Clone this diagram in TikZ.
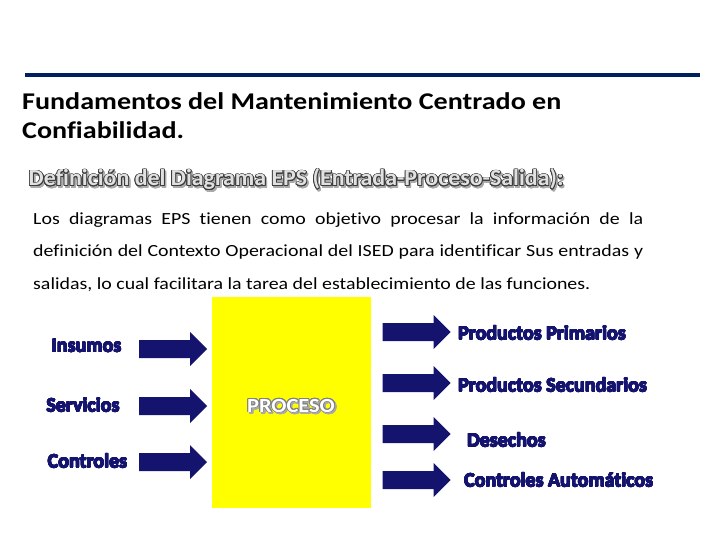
\documentclass[tikz,border=0pt]{standalone}
\usepackage{fontspec}
\setmainfont{Carlito}[Ligatures=CommonOff]
\newfontfamily\stretchA{Carlito}[FakeStretch=1.17, Ligatures=CommonOff]
\newfontfamily\stretchB{Carlito}[FakeStretch=1.04, Ligatures=CommonOff]
\newfontfamily\stretchC{Carlito}[FakeStretch=1.12, Ligatures=CommonOff]
\usepackage{contour}
\contourlength{0.8pt}
\definecolor{navy}{RGB}{20,20,110}
\definecolor{rulecol}{RGB}{0,32,96}
\definecolor{procyellow}{RGB}{255,255,0}
\definecolor{outdark}{RGB}{60,60,60}
\definecolor{fillgray}{RGB}{225,225,225}
\definecolor{shadowgray}{RGB}{170,170,170}
\newcommand\navyout[1]{{\contourlength{0.4pt}\contour{navy}{#1}}}
\tikzset{
  blockarrow/.pic={\fill[navy] (-34,-9) -- (17,-9) -- (17,-17) -- (34,0) -- (17,17) -- (17,9) -- (-34,9) -- cycle;},
  lab/.style={font=\fontsize{20}{24}\selectfont\bfseries, text=navy, inner sep=0pt},
  rlab/.style={lab, anchor=west},
  titlestyle/.style={anchor=base west, inner sep=0pt, font=\stretchA\fontsize{24}{29}\selectfont\bfseries},
}
\begin{document}
\begin{tikzpicture}[x=1pt,y=-1pt]
\useasboundingbox (0,0) rectangle (720,540);
% top rule
\coordinate (ruleL) at (25,75);
\coordinate (ruleR) at (700,75);
\draw[rulecol, line width=4pt] (ruleL) -- (ruleR);
% title
\node[titlestyle] (title1) at (22,110) {Fundamentos del Mantenimiento Centrado en};
\node[titlestyle] (title2) at (22,139) {Confiabilidad.};
% subtitle with outline and shadow
\node[anchor=base west, inner sep=0pt, font=\stretchB\fontsize{23}{27}\selectfont\bfseries, text=shadowgray] (subsh) at (30,188) {\contour{shadowgray}{Definición del Diagrama EPS (Entrada-Proceso-Salida):}};
\node[anchor=base west, inner sep=0pt, font=\stretchB\fontsize{23}{27}\selectfont\bfseries, text=fillgray] (sub) at (28.5,186) {\contour{outdark}{Definición del Diagrama EPS (Entrada-Proceso-Salida):}};
% paragraph
\node[anchor=north west, inner sep=0pt, text width=610pt, align=justify,
  font=\stretchA\fontsize{17}{32.5}\selectfont] (para) at (33,204)
  {\rule{0pt}{20pt}Los diagramas EPS tienen como objetivo procesar la información de la\linebreak
   definición del Contexto Operacional del ISED para identificar Sus entradas y\linebreak
   salidas, lo cual facilitara la tarea del establecimiento de las funciones.};
% process box
\node[fill=procyellow, draw=none, minimum width=159pt, minimum height=211pt, inner sep=0pt] (proc) at (291.5,402.5) {};
\node[inner sep=0pt, font=\stretchC\fontsize{20}{24}\selectfont\bfseries, text=shadowgray] (procsh) at (292.5,407.5) {\contour{shadowgray}{PROCESO}};
\node[inner sep=0pt, font=\stretchC\fontsize{20}{24}\selectfont\bfseries, text=white] (proctext) at (291,406) {\contour{gray}{PROCESO}};
% input arrows
\pic (ain1) at (173,349) {blockarrow};
\pic (ain2) at (173,406) {blockarrow};
\pic (ain3) at (173,462) {blockarrow};
\node[lab] (insumos) at (86.5,346) {\navyout{Insumos}};
\node[lab] (servicios) at (83,405) {\navyout{Servicios}};
\node[lab] (controles) at (87.5,461) {\navyout{Controles}};
% output arrows
\pic (aout1) at (416.5,332) {blockarrow};
\pic (aout2) at (416.5,383) {blockarrow};
\pic (aout3) at (416.5,434) {blockarrow};
\pic (aout4) at (416.5,480) {blockarrow};
\node[rlab] (prim) at (458,333) {\navyout{Productos Primarios}};
\node[rlab] (sec) at (458,385) {\navyout{Productos Secundarios}};
\node[rlab] (des) at (467,440) {\navyout{Desechos}};
\node[rlab] (ctrla) at (464,480) {\navyout{Controles Automáticos}};
\end{tikzpicture}
\end{document}
